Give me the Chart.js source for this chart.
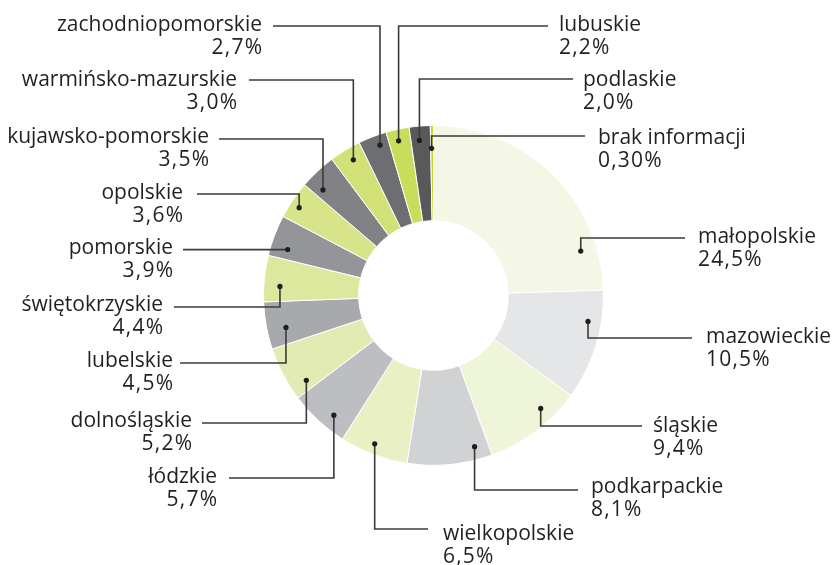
<!DOCTYPE html>
<html>
<head>
<meta charset="utf-8">
<script src="https://cdn.jsdelivr.net/npm/chart.js@4"></script>
<style>
html,body{margin:0;padding:0;background:#fff;}
canvas{display:block;}
</style>
</head>
<body>
<canvas id="c" width="834" height="565"></canvas>
<script>
// ---- data ----
const regions = ["małopolskie","mazowieckie","śląskie","podkarpackie","wielkopolskie","łódzkie","dolnośląskie","lubelskie","świętokrzyskie","pomorskie","opolskie","kujawsko-pomorskie","warmińsko-mazurskie","zachodniopomorskie","lubuskie","podlaskie","brak informacji"];
const shares = [24.5,10.5,9.4,8.1,6.5,5.7,5.2,4.5,4.4,3.9,3.6,3.5,3.0,2.7,2.2,2.0,0.3];
const shareLabels = ["24,5%","10,5%","9,4%","8,1%","6,5%","5,7%","5,2%","4,5%","4,4%","3,9%","3,6%","3,5%","3,0%","2,7%","2,2%","2,0%","0,30%"];

// ---- styles ----
const sliceColors = ["#f4f7e6","#e5e6e8","#eff5d9","#d1d2d4","#e8f0c4","#bdbec2","#e2ebb2","#a7a9ac","#dde89f","#939598","#d7e48a","#808285","#d1e177","#6d6e71","#cadc5c","#58595b","#c5d92d"];

// annotation layout: dot position within slice [fraction along arc, fraction of ring thickness],
// leader line y, line end x, text x, name baseline y, alignment
const annot = [
  {f:0.83, r:0.83, ly:238, lx:685, tx:698, ty:243, al:"left"},
  {f:0.30, r:0.86, ly:338, lx:692, tx:706, ty:343, al:"left"},
  {f:0.31, r:0.85, ly:426, lx:642, tx:653, ty:432, al:"left"},
  {f:0.17, r:0.86, ly:490, lx:578, tx:591, ty:493, al:"left"},
  {f:0.54, r:0.89, ly:529, lx:428, tx:443, ty:540, al:"left"},
  {f:0.36, r:0.85, ly:478, lx:229, tx:217, ty:483, al:"right"},
  {f:0.18, r:0.82, ly:423, lx:202, tx:192, ty:427, al:"right"},
  {f:0.38, r:0.80, ly:363, lx:180, tx:173, ty:367, al:"right"},
  {f:0.35, r:0.83, ly:307, lx:174, tx:163, ty:311, al:"right"},
  {f:0.27, r:0.82, ly:null, lx:183, tx:173, ty:254, al:"right"},
  {f:0.42, r:0.90, ly:194, lx:197, tx:183, ty:199, al:"right"},
  {f:0.24, r:0.82, ly:139, lx:219, tx:209, ty:143, al:"right"},
  {f:0.57, r:0.87, ly:80, lx:249, tx:237, ty:86, al:"right"},
  {f:0.65, r:0.89, ly:26, lx:273, tx:262, ty:31, al:"right"},
  {f:0.44, r:0.88, ly:26, lx:548, tx:559, ty:31, al:"left"},
  {f:0.43, r:0.85, ly:79, lx:573, tx:583, ty:86, al:"left"},
  {f:0.30, r:0.76, ly:136, lx:585, tx:598, ty:144, al:"left"}
];

const labelPlugin = {
  id: "leaderLabels",
  afterDatasetsDraw(chart) {
    const ctx = chart.ctx;
    const arcs = chart.getDatasetMeta(0).data;
    ctx.save();
    arcs.forEach((arc, i) => {
      const a = annot[i];
      const p = arc.getProps(["x","y","startAngle","endAngle","innerRadius","outerRadius"], true);
      const ang = p.startAngle + a.f * (p.endAngle - p.startAngle);
      const rad = p.innerRadius + a.r * (p.outerRadius - p.innerRadius);
      const dx = p.x + Math.cos(ang) * rad;
      const dy = p.y + Math.sin(ang) * rad;
      const ly = a.ly === null ? dy : a.ly;
      ctx.strokeStyle = "#3b3b3b";
      ctx.lineWidth = 1.6;
      ctx.beginPath();
      ctx.moveTo(dx, dy);
      ctx.lineTo(dx, ly);
      ctx.lineTo(a.lx, ly);
      ctx.stroke();
      ctx.fillStyle = "#1e1e1e";
      ctx.beginPath();
      ctx.arc(dx, dy, 2.6, 0, Math.PI * 2);
      ctx.fill();
      ctx.fillStyle = "#231f20";
      ctx.font = "21px 'Open Sans'";
      ctx.textAlign = a.al;
      ctx.textBaseline = "alphabetic";
      ctx.letterSpacing = "0px";
      ctx.fillText(regions[i], a.tx, a.ty);
      ctx.letterSpacing = "1.2px";
      const w = ctx.measureText(shareLabels[i]).width;
      // compensate trailing letter spacing when right aligned
      ctx.fillText(shareLabels[i], a.al === "right" ? a.tx + 1.2 : a.tx, a.ty + 23);
      ctx.letterSpacing = "0px";
    });
    ctx.restore();
  }
};

new Chart(document.getElementById("c"), {
  type: "doughnut",
  data: {
    labels: regions,
    datasets: [{
      data: shares,
      backgroundColor: sliceColors,
      borderColor: "#ffffff",
      borderWidth: 1
    }]
  },
  options: {
    responsive: false,
    animation: false,
    cutout: "44%",
    layout: {padding: {left: 263, right: 230, top: 125, bottom: 99}},
    plugins: {legend: {display: false}, tooltip: {enabled: false}}
  },
  plugins: [labelPlugin]
});
</script>
</body>
</html>
